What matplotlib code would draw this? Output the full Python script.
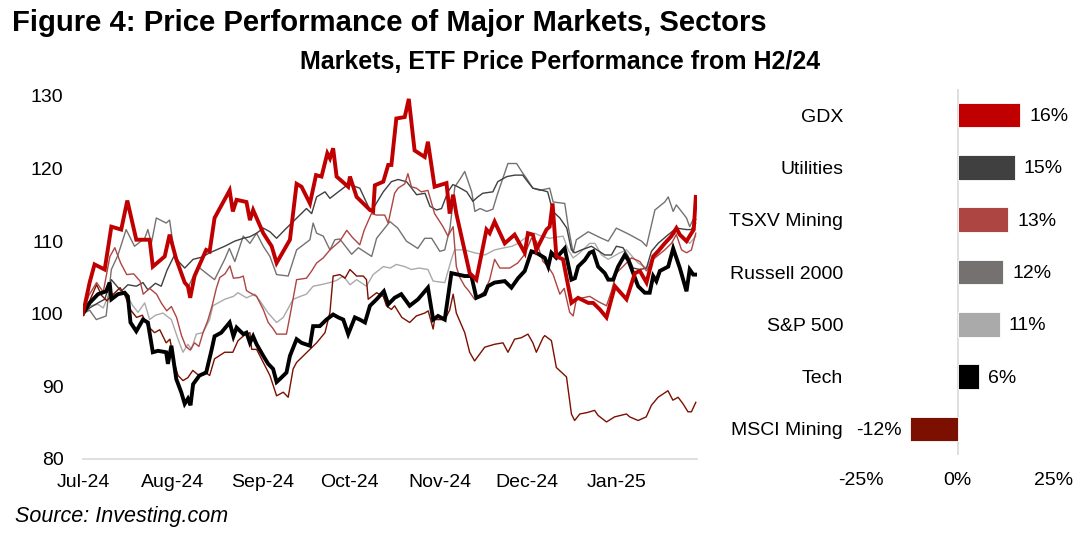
"""Figure 4: price performance of major markets / sectors since H2/24.
Left: indexed ETF prices (Jul-24 = 100). Right: total change over the period.
"""
import matplotlib
matplotlib.use("Agg")
import matplotlib.pyplot as plt
import matplotlib.dates as mdates
import pandas as pd

plt.rcParams["font.family"] = ["Liberation Sans", "DejaVu Sans"]

start = pd.Timestamp("2024-07-01")

# (days since 1 Jul 2024, index level)
gdx = [(0, 100), (2.3, 104.3), (4.0, 106.8), (7.5, 106.1), (9.8, 112.0), (13.2, 111.6), (15.3, 115.6),
       (18.4, 110.2), (23.0, 110.2), (24.1, 106.5), (28.2, 107.9), (29.9, 110.9), (32.2, 107.5),
       (35.1, 104.3), (36.2, 103.8), (37.0, 102.2), (38.5, 105.2), (42.5, 108.8), (43.7, 108.6),
       (45.4, 113.2), (50.6, 117.0), (51.7, 114.1), (53.0, 115.7), (56.4, 115.4), (57.6, 112.9),
       (58.7, 114.3), (62.2, 111.1), (65.1, 109.3), (66.8, 107.0), (71.4, 110.2), (73.7, 117.9),
       (75.4, 117.5), (78.3, 115.2), (80.4, 119.1), (82.3, 118.9), (84.3, 122.1), (85.2, 121.4),
       (86.3, 122.8), (87.5, 118.9), (91.5, 117.5), (92.1, 118.9), (94.4, 116.1), (99.0, 114.3),
       (100.1, 114.1), (100.7, 117.7), (103.6, 118.2), (105.3, 120.5), (106.4, 120.5), (108.1, 126.9),
       (111.0, 127.1), (112.4, 129.6), (114.4, 122.5), (117.9, 121.6), (119.0, 123.7), (121.3, 117.5),
       (125.4, 118.0), (126.5, 113.8), (127.7, 116.4), (128.8, 113.8), (133.4, 105.6), (135.7, 104.7),
       (139.2, 111.6), (140.3, 111.1), (142.0, 112.7), (145.5, 109.7), (148.9, 110.9), (152.4, 108.4),
       (153.5, 111.1), (155.2, 110.9), (156.4, 108.8), (159.9, 111.6), (161.0, 112.0), (162.0, 115.2),
       (163.3, 107.9), (165.6, 107.5), (168.5, 101.5), (170.8, 102.2), (174.3, 101.5), (176.0, 101.5),
       (178.3, 100.6), (180.6, 99.5), (183.5, 103.8), (187.5, 102.0), (190.4, 105.6), (192.1, 105.9),
       (194.4, 104.3), (196.7, 107.9), (198.4, 108.6), (200.7, 109.7), (203.0, 110.7), (204.7, 111.8),
       (205.9, 110.9), (208.2, 110.0), (210.2, 111.3), (210.7, 111.6), (211.4, 116.1)]

utilities = [(0, 100), (2.3, 100.8), (5.2, 101.5), (7.5, 102.0), (9.8, 104.7), (13.2, 103.1), (15.5, 104.0),
             (18.4, 103.8), (20.7, 104.3), (22.4, 103.3), (25.0, 104.2), (27.0, 103.8), (29.0, 106.0),
             (31.6, 108.1), (33.0, 107.2), (35.1, 106.3), (38.0, 107.5), (41.0, 107.8), (43.7, 108.4),
             (46.0, 108.8), (48.9, 109.3), (52.3, 110.0), (55.3, 110.4), (57.5, 110.6), (59.9, 111.1),
             (62.2, 111.8), (64.5, 111.3), (66.8, 110.4), (69.7, 111.6), (72.0, 112.5), (74.8, 113.6),
             (77.1, 114.5), (78.9, 113.8), (80.6, 116.1), (83.5, 116.8), (85.2, 115.9), (88.1, 116.8),
             (90.4, 117.5), (92.1, 117.8), (95.5, 117.3), (99.0, 114.3), (100.1, 114.5), (103.6, 116.8),
             (106.4, 118.2), (108.7, 118.5), (111.6, 118.2), (113.4, 117.3), (115.1, 116.4), (118.0, 116.6),
             (119.7, 114.8), (122.0, 114.3), (123.7, 114.5), (125.9, 116.8), (127.6, 117.8), (129.3, 117.5),
             (132.4, 116.8), (134.5, 115.5), (136.2, 116.1), (137.9, 116.6), (141.4, 116.8), (143.1, 118.2),
             (146.2, 118.9), (149.0, 119.1), (151.7, 119.1), (153.4, 118.2), (155.2, 117.3), (157.6, 117.1),
             (160.3, 116.8), (162.1, 114.1), (164.5, 113.2), (166.9, 111.8), (168.5, 108.8), (169.7, 108.4),
             (172.0, 108.8), (175.4, 109.3), (180.0, 108.1), (182.3, 108.1), (184.0, 109.3), (186.3, 109.1),
             (188.1, 107.9), (189.8, 106.3), (192.1, 106.1), (194.4, 106.3), (196.1, 108.6), (198.4, 109.7),
             (201.3, 110.7), (204.7, 111.8), (208.2, 111.6), (209.9, 111.6), (211.4, 113.0)]

tsxv_mining = [(0, 100), (2.0, 102.5), (4.7, 104.3), (7.0, 103.0), (9.3, 107.9), (11.0, 109.1), (13.0, 107.0),
               (15.1, 105.4), (17.5, 105.5), (19.7, 104.5), (20.8, 102.7), (23.0, 103.5), (25.4, 102.7),
               (27.0, 101.5), (28.9, 100.4), (30.5, 101.0), (32.3, 99.5), (34.0, 97.0), (35.5, 95.5),
               (37.0, 95.0), (38.5, 96.0), (40.0, 95.5), (41.5, 97.5), (43.0, 99.0), (44.5, 101.0),
               (46.0, 103.5), (47.2, 105.0), (49.0, 105.5), (50.7, 106.6), (51.9, 104.9), (54.1, 105.0),
               (55.3, 105.2), (56.4, 103.2), (57.6, 102.9), (59.9, 102.4), (62.2, 100.6), (63.9, 98.8),
               (65.5, 98.0), (66.8, 97.2), (70.2, 97.2), (71.4, 99.7), (73.7, 104.7), (77.1, 104.9),
               (78.9, 105.9), (80.6, 107.0), (82.9, 107.7), (85.2, 108.8), (88.6, 110.0), (91.0, 111.5),
               (93.0, 110.5), (95.5, 109.5), (97.0, 111.5), (99.5, 113.8), (101.3, 113.6), (104.1, 113.6),
               (105.3, 112.5), (107.5, 116.6), (108.7, 117.3), (111.0, 117.9), (112.1, 119.3), (113.3, 117.5),
               (115.0, 117.3), (116.7, 116.8), (119.0, 117.0), (121.3, 113.8), (124.2, 112.0), (125.9, 110.7),
               (127.7, 112.0), (128.8, 106.5), (130.0, 105.0), (131.7, 103.8), (133.0, 103.2), (135.1, 102.0),
               (138.6, 103.1), (140.3, 104.7), (142.0, 107.5), (143.8, 106.3), (147.2, 106.3), (150.0, 107.0),
               (152.4, 108.2), (154.7, 110.4), (156.4, 110.0), (158.7, 107.2), (160.5, 106.5), (162.2, 105.4),
               (164.5, 102.7), (166.0, 103.5), (167.9, 100.2), (169.1, 99.7), (170.2, 102.0), (174.8, 102.4),
               (177.7, 101.7), (180.6, 101.1), (182.3, 103.1), (184.0, 105.6), (187.5, 107.0), (189.2, 107.7),
               (192.1, 107.2), (194.4, 105.9), (196.7, 107.5), (200.7, 108.8), (203.0, 109.7), (204.7, 110.9),
               (206.5, 108.8), (208.2, 108.4), (209.9, 108.8), (211.4, 111.1)]

russell = [(0, 100), (2.3, 100.5), (4.6, 99.2), (8.0, 99.7), (9.8, 106.1), (12.0, 108.0), (14.9, 111.6),
           (17.8, 109.3), (21.3, 110.4), (22.4, 111.6), (23.6, 109.7), (25.3, 113.2), (28.7, 112.5),
           (29.9, 112.9), (31.6, 108.1), (35.1, 104.3), (36.2, 103.6), (39.7, 106.5), (42.5, 105.6),
           (45.4, 104.7), (48.9, 107.5), (50.5, 109.0), (52.4, 107.2), (55.3, 110.7), (57.6, 109.7),
           (59.9, 111.1), (62.2, 109.3), (64.5, 107.9), (66.8, 105.4), (70.8, 105.2), (73.7, 108.8),
           (76.0, 109.5), (78.3, 110.2), (79.4, 112.5), (80.6, 111.1), (82.9, 110.7), (85.2, 108.8),
           (86.9, 110.2), (88.6, 110.3), (92.7, 108.2), (95.0, 109.1), (99.6, 107.9), (101.3, 110.4),
           (105.9, 112.7), (108.6, 111.8), (111.6, 110.0), (115.5, 109.0), (117.9, 110.4), (120.3, 110.4),
           (123.1, 108.6), (124.8, 108.8), (126.6, 111.8), (128.3, 117.5), (130.0, 118.5), (131.7, 119.6),
           (134.1, 116.8), (135.2, 114.1), (137.0, 114.5), (139.3, 114.1), (141.4, 114.4), (143.0, 116.5),
           (144.8, 118.6), (146.6, 120.7), (149.6, 120.7), (151.5, 119.5), (153.1, 118.6), (155.2, 117.3),
           (157.6, 117.0), (161.0, 117.3), (162.2, 115.4), (166.2, 115.2), (167.4, 112.0), (169.1, 108.4),
           (170.2, 110.2), (174.3, 111.3), (178.9, 110.4), (181.2, 110.0), (184.0, 111.8), (188.6, 110.9),
           (192.7, 110.0), (194.4, 109.3), (197.3, 114.3), (200.7, 115.4), (201.9, 116.1), (203.6, 114.1),
           (204.7, 115.0), (208.2, 113.2), (209.3, 112.0), (210.5, 113.0), (211.4, 112.5)]

sp500 = [(0, 100), (2.3, 101.1), (5.2, 101.3), (7.0, 100.8), (9.2, 102.9), (12.0, 102.6), (14.4, 103.1),
         (17.2, 101.1), (19.0, 100.2), (21.3, 101.5), (23.0, 99.2), (25.0, 99.8), (27.6, 100.1), (30.5, 99.2),
         (32.8, 96.5), (34.5, 94.7), (36.2, 95.8), (37.4, 95.1), (39.1, 97.2), (41.4, 97.4), (43.7, 99.2),
         (44.8, 101.1), (48.9, 102.0), (51.9, 102.4), (53.5, 102.9), (56.4, 102.2), (59.3, 102.7),
         (61.0, 101.8), (63.9, 100.1), (66.8, 98.8), (69.1, 99.5), (72.5, 102.0), (75.0, 102.4),
         (77.1, 102.7), (79.4, 103.8), (82.0, 104.0), (85.2, 104.3), (87.5, 104.6), (89.8, 105.2),
         (92.1, 104.0), (94.4, 104.7), (97.8, 103.8), (100.1, 105.4), (103.6, 106.5), (106.0, 106.3),
         (108.1, 106.8), (111.0, 106.5), (113.3, 106.1), (116.0, 106.3), (119.0, 106.1), (120.8, 104.5),
         (124.8, 104.3), (127.1, 107.5), (128.2, 108.8), (131.7, 108.8), (135.1, 108.4), (138.6, 108.1),
         (142.0, 108.8), (145.5, 109.1), (148.0, 109.3), (150.1, 109.7), (152.4, 110.4), (155.8, 111.1),
         (158.1, 110.7), (161.0, 110.4), (165.6, 110.7), (167.4, 108.8), (169.1, 107.7), (171.4, 108.4),
         (174.8, 109.7), (176.6, 109.7), (178.9, 108.1), (181.2, 107.5), (185.2, 108.4), (187.5, 108.8),
         (191.5, 107.0), (194.4, 106.3), (197.3, 108.4), (201.3, 110.2), (204.7, 111.1), (206.9, 110.7),
         (209.3, 109.7), (211.4, 110.7)]

tech = [(0, 100), (2.3, 101.5), (5.2, 102.7), (8.0, 103.1), (9.2, 104.3), (9.8, 102.0), (12.1, 102.7),
        (14.4, 102.9), (15.5, 102.4), (16.4, 98.8), (18.4, 97.6), (20.7, 99.2), (22.4, 98.8), (24.1, 94.7),
        (25.9, 94.9), (28.7, 94.7), (29.3, 93.1), (30.5, 95.6), (32.2, 91.0), (33.9, 89.2), (35.1, 87.6),
        (36.2, 88.3), (37.1, 87.4), (38.0, 90.3), (40.2, 91.5), (42.5, 91.9), (44.3, 94.9), (45.4, 96.9),
        (47.7, 97.4), (50.6, 98.8), (51.9, 96.9), (53.0, 98.1), (55.3, 97.2), (56.4, 97.4), (57.6, 96.0),
        (58.7, 96.9), (59.9, 95.8), (62.2, 94.2), (63.9, 93.1), (65.6, 92.4), (66.8, 90.6), (67.9, 91.0),
        (70.2, 91.9), (71.4, 94.2), (73.7, 96.5), (75.4, 96.0), (78.3, 95.6), (79.4, 98.3), (81.7, 98.3),
        (84.0, 99.2), (86.3, 99.9), (88.1, 99.5), (89.8, 99.2), (91.5, 97.2), (93.8, 99.5), (95.5, 99.2),
        (97.3, 98.8), (99.0, 101.1), (101.3, 102.0), (103.8, 103.1), (105.3, 101.3), (107.5, 102.2),
        (109.8, 102.7), (112.7, 101.1), (115.6, 102.0), (119.0, 103.6), (120.8, 99.2), (122.5, 99.7),
        (124.8, 99.2), (127.1, 105.6), (131.7, 105.2), (134.0, 105.2), (135.7, 102.2), (138.6, 102.7),
        (139.7, 103.8), (142.0, 104.3), (145.5, 104.5), (147.8, 103.6), (150.1, 104.9), (152.4, 105.9),
        (154.7, 108.6), (156.4, 108.4), (159.3, 107.7), (160.5, 106.5), (161.6, 108.4), (163.3, 107.7),
        (166.2, 109.0), (168.5, 104.7), (169.7, 104.9), (170.8, 106.5), (173.1, 107.4), (174.8, 108.4),
        (176.0, 108.6), (177.7, 106.5), (180.0, 105.6), (181.2, 104.7), (182.9, 104.7), (184.6, 106.5),
        (186.9, 108.1), (188.1, 107.4), (189.8, 105.6), (191.5, 103.8), (193.8, 102.9), (195.5, 102.9),
        (196.7, 105.2), (197.8, 104.5), (199.0, 105.9), (201.9, 106.5), (203.6, 109.0), (205.9, 106.3),
        (208.2, 103.1), (209.3, 106.1), (210.5, 105.4), (211.6, 105.4)]

msci_mining = [(0, 100), (2.0, 101.5), (4.7, 104.0), (6.5, 102.5), (8.2, 101.8), (10.5, 102.7), (12.8, 103.6),
               (14.5, 102.5), (16.5, 100.5), (18.5, 99.5), (20.5, 99.8), (22.4, 98.3), (24.7, 97.4),
               (26.5, 97.8), (28.7, 96.0), (30.0, 96.5), (31.6, 93.1), (32.8, 91.5), (34.5, 90.8),
               (36.2, 91.2), (37.9, 92.2), (40.0, 91.5), (42.0, 92.0), (43.7, 91.5), (45.4, 93.8),
               (48.9, 94.7), (51.7, 94.7), (53.5, 96.3), (55.5, 97.0), (57.6, 97.4), (58.2, 95.1),
               (59.9, 95.1), (62.2, 93.3), (64.5, 91.5), (66.8, 88.7), (69.1, 89.2), (70.8, 88.5),
               (72.5, 92.4), (73.7, 93.3), (76.0, 94.2), (78.3, 95.1), (80.6, 96.0), (83.5, 97.4),
               (85.2, 100.2), (86.3, 105.2), (88.6, 105.4), (90.4, 104.9), (92.1, 106.1), (94.4, 105.2),
               (96.7, 105.2), (97.8, 104.7), (98.4, 102.0), (101.3, 102.9), (103.6, 102.4), (104.7, 101.1),
               (106.4, 100.6), (107.5, 101.1), (110.0, 99.5), (112.7, 98.8), (115.0, 99.7), (117.9, 100.1),
               (119.1, 100.4), (120.8, 97.9), (121.3, 99.2), (124.8, 99.2), (126.5, 100.5), (127.7, 102.7),
               (128.8, 100.1), (131.7, 97.4), (133.4, 94.7), (135.1, 93.5), (138.6, 95.4), (142.0, 95.8),
               (144.9, 96.0), (146.6, 94.7), (148.9, 96.5), (151.2, 96.7), (153.5, 97.2), (155.2, 96.0),
               (156.4, 94.7), (158.7, 96.7), (159.3, 97.0), (161.6, 96.3), (163.3, 92.6), (166.8, 91.3),
               (168.5, 86.2), (169.6, 85.3), (171.4, 86.2), (174.0, 86.4), (176.5, 86.7), (177.7, 86.0),
               (180.6, 85.1), (183.4, 85.8), (187.5, 86.2), (188.6, 85.8), (191.5, 85.3), (194.3, 85.8),
               (196.1, 87.4), (198.4, 88.5), (201.8, 89.4), (203.5, 88.1), (205.3, 88.5), (207.0, 87.6),
               (208.7, 86.5), (209.9, 86.5), (211.4, 87.8)]

# right panel: change over the period, %
bar_names = ["GDX", "Utilities", "TSXV Mining", "Russell 2000", "S&P 500", "Tech", "MSCI Mining"]
bar_change = [16.2, 14.8, 13.2, 11.9, 10.9, 5.6, -12.2]

colors = {"GDX": "#c00000", "Utilities": "#404040", "TSXV Mining": "#ad4542", "Russell 2000": "#767171",
          "S&P 500": "#aaaaaa", "Tech": "#000000", "MSCI Mining": "#7b1000"}


def as_series(pts):
    days, vals = zip(*pts)
    return start + pd.to_timedelta(list(days), unit="D"), list(vals)


fig = plt.figure(figsize=(10.9, 5.36), dpi=100)

# ---- line panel
ax = fig.add_axes([0.0761, 0.1437, 0.5633, 0.6772])
thin = [("S&P 500", sp500), ("Russell 2000", russell), ("Utilities", utilities),
        ("MSCI Mining", msci_mining), ("TSXV Mining", tsxv_mining)]
for name, pts in thin:
    x, y = as_series(pts)
    ax.plot(x, y, color=colors[name], lw=1.0)
x, y = as_series(tech)
ax.plot(x, y, color=colors["Tech"], lw=2.8, solid_joinstyle="miter")
x, y = as_series(gdx)
ax.plot(x, y, color=colors["GDX"], lw=2.8, solid_joinstyle="miter")

ax.set_ylim(80, 130)
ax.set_yticks(range(80, 131, 10))
ax.set_xlim(start, start + pd.Timedelta(days=211.8))
ax.xaxis.set_major_locator(mdates.MonthLocator())
ax.xaxis.set_major_formatter(mdates.DateFormatter("%b-%y"))
ax.tick_params(axis="both", length=0, labelsize=14)
ax.tick_params(axis="y", pad=14)
ax.tick_params(axis="x", pad=11)
for s in ["top", "right", "left"]:
    ax.spines[s].set_visible(False)
ax.spines["bottom"].set_color("#d9d9d9")
ax.spines["bottom"].set_linewidth(1.2)

# ---- bar panel
bx = fig.add_axes([0.790, 0.151, 0.177, 0.683])
pos = list(range(len(bar_names)))
bx.axvline(0, color="#d9d9d9", lw=1.2, zorder=1)
bx.barh(pos, bar_change, height=0.47, color=[colors[n] for n in bar_names],
        edgecolor="white", linewidth=0.6, zorder=2)
for p, v in zip(pos, bar_change):
    bx.annotate(f"{round(v):d}%", (v, p), xytext=(6.5 if v > 0 else -6.5, -1),
                textcoords="offset points", ha="left" if v > 0 else "right",
                va="center", fontsize=14)
bx.set_xlim(-25, 25)
bx.set_ylim(len(bar_names) - 0.5, -0.5)
bx.set_yticks(pos)
bx.set_yticklabels(bar_names)
bx.set_xticks([-25, 0, 25])
bx.set_xticklabels(["-25%", "0%", "25%"])
bx.tick_params(axis="both", length=0, labelsize=14)
bx.tick_params(axis="y", pad=13)
bx.tick_params(axis="x", pad=12)
for s in bx.spines.values():
    s.set_visible(False)

# ---- titles / source
fig.text(0.011, 0.958, "Figure 4: Price Performance of Major Markets, Sectors",
         fontsize=21.1, fontweight="bold", va="center", ha="left")
fig.text(0.5138, 0.884, "Markets, ETF Price Performance from H2/24",
         fontsize=18, fontweight="bold", va="center", ha="center")
fig.text(0.014, 0.037, "Source: Investing.com", fontsize=15.5, style="italic",
         va="center", ha="left")

fig.savefig("out.png", dpi=100)
